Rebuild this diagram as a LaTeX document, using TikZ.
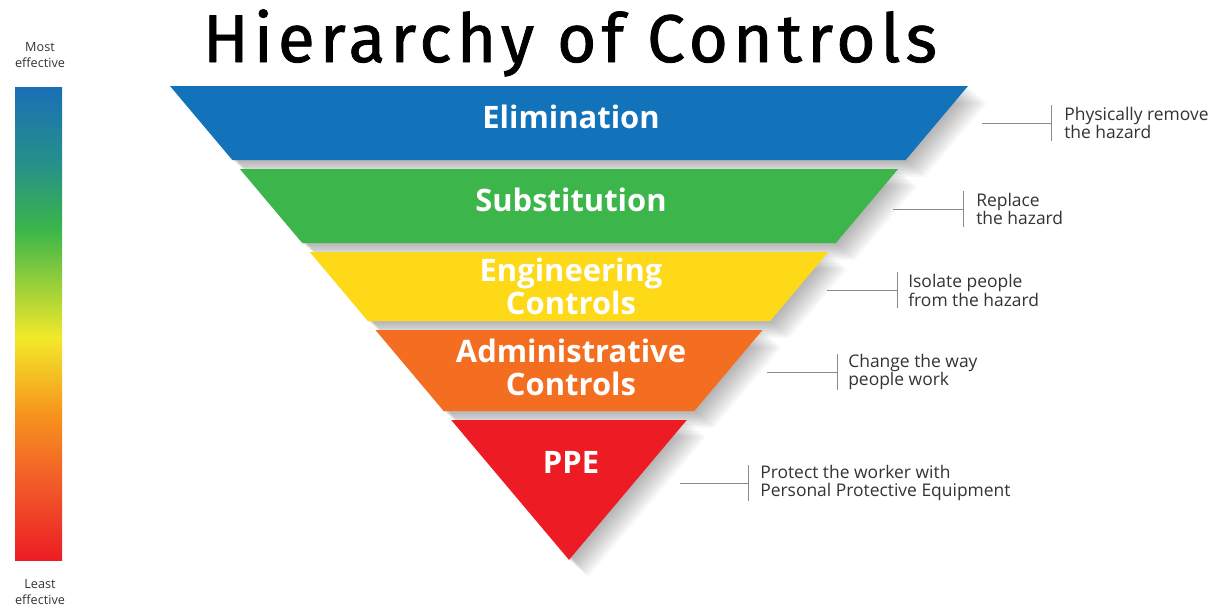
\documentclass[tikz,border=0pt]{standalone}
\usepackage{fontspec}
\setmainfont{Open Sans}
\newfontfamily\titlefont{Fira Sans}[LetterSpace=7.5, FakeBold=1.2]
\usetikzlibrary{positioning}

\definecolor{elimblue}{HTML}{1272BA}
\definecolor{substgreen}{HTML}{3CB54A}
\definecolor{engyellow}{HTML}{FDD918}
\definecolor{adminorange}{HTML}{F36E21}
\definecolor{ppered}{HTML}{ED1C24}
\definecolor{txtgray}{HTML}{333333}
\definecolor{linegray}{HTML}{8A8A8A}
\definecolor{barblue}{HTML}{1A6FB7}
\definecolor{barteal}{HTML}{26908A}
\definecolor{bargreen}{HTML}{3AB54A}
\definecolor{baryellow}{HTML}{F2E92A}
\definecolor{barorange}{HTML}{F7941D}
\definecolor{barorangered}{HTML}{F15A29}
\definecolor{barred}{HTML}{ED1C24}

% the path box sits between 25bp and 75bp of the shading
\pgfdeclareverticalshading{effbar}{100bp}{color(0bp)=(barred); color(25bp)=(barred); color(33bp)=(barorangered); color(40.5bp)=(barorange); color(48.5bp)=(baryellow); color(60bp)=(bargreen); color(67bp)=(barteal); color(75bp)=(barblue); color(100bp)=(barblue)}

% trapezoid between two heights, cut from one big triangle
\newcommand{\bandpath}[2]{({170+0.842*(#1-86)},#1) -- ({968-0.842*(#1-86)},#1) -- ({968-0.842*(#2-86)},#2) -- ({170+0.842*(#2-86)},#2) -- cycle}

\begin{document}
\begin{tikzpicture}[x=0.025cm, y=-0.025cm,
    band/.style={font=\fontsize{22}{23.5}\selectfont\bfseries, text=white, align=center},
    desc/.style={font=\fontsize{12.4}{12.2}\selectfont, text=txtgray, align=left, anchor=west, inner sep=0pt},
    side/.style={font=\fontsize{9}{11.4}\selectfont, text=txtgray, align=center},
    leader/.style={draw=linegray, line width=0.6pt}]
  \useasboundingbox (0,0) rectangle (1220,607);

  % title and side scale
  \node[font=\titlefont\fontsize{48}{50}\selectfont, anchor=base] (title) at (570,62) {Hierarchy of Controls};
  \node[side] (most) at (40,55) {Most\\effective};
  \node[side] (least) at (40,592) {Least\\effective};
  \shade[shading=effbar] (15,87) rectangle (62,560);

  % soft shadows
  \foreach \yt/\yb in {86/160, 169/243, 252/321, 330/411, 420/560}
    \foreach \i in {1,...,12}
      \fill[black, opacity=0.028, shift={(\i*1.6,\i*1.4)}] \bandpath{\yt}{\yb};

  % bands
  \fill[elimblue] \bandpath{86}{160};
  \fill[substgreen] \bandpath{169}{243};
  \fill[engyellow] \bandpath{252}{321};
  \fill[adminorange] \bandpath{330}{411};
  \fill[ppered] \bandpath{420}{560};

  \node[band] (elim) at (571,117) {Elimination};
  \node[band] (subst) at (571,200) {Substitution};
  \node[band] (engin) at (571,286) {Engineering\\Controls};
  \node[band] (admin) at (571,367) {Administrative\\Controls};
  \node[band] (ppe) at (571,462) {PPE};

  % descriptions
  \coordinate (e1) at (982,123);  \coordinate (e2) at (1051,123);
  \coordinate (s1) at (893,209);  \coordinate (s2) at (963,209);
  \coordinate (g1) at (827,290);  \coordinate (g2) at (897,290);
  \coordinate (a1) at (767,372);  \coordinate (a2) at (837,372);
  \coordinate (p1) at (680,483);  \coordinate (p2) at (748,483);

  \node[desc, right=13 of e2] (elimtxt) {Physically remove\\the hazard};
  \node[desc, right=13 of s2] (substtxt) {Replace\\the hazard};
  \node[desc, right=11 of g2] (engintxt) {Isolate people\\from the hazard};
  \node[desc, right=11 of a2] (admintxt) {Change the way\\people work};
  \node[desc, right=12 of p2] (ppetxt) {Protect the worker with\\Personal Protective Equipment};

  \draw[leader] (e1) -- (e2) ++(0,-18) -- ++(0,36);
  \draw[leader] (s1) -- (s2) ++(0,-18) -- ++(0,36);
  \draw[leader] (g1) -- (g2) ++(0,-18) -- ++(0,36);
  \draw[leader] (a1) -- (a2) ++(0,-18) -- ++(0,36);
  \draw[leader] (p1) -- (p2) ++(0,-18) -- ++(0,36);
\end{tikzpicture}
\end{document}
